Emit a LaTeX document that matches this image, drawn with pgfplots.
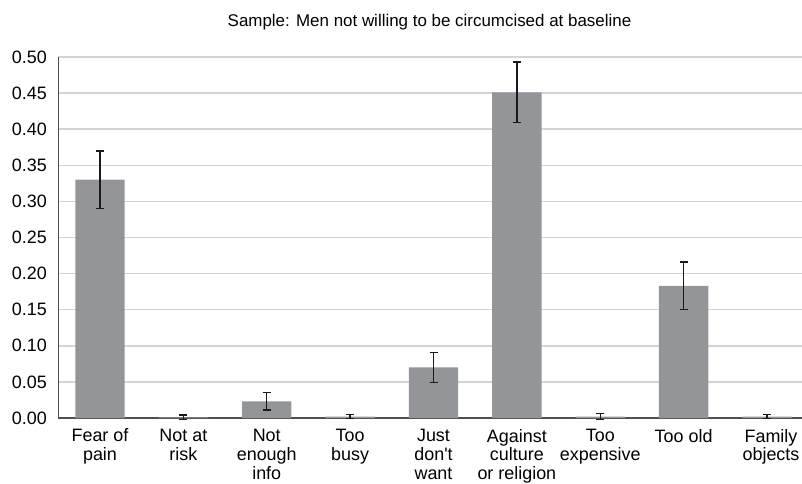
\documentclass[border=0pt]{standalone}
\usepackage{pgfplots}
\pgfplotsset{compat=1.18}
\usepackage{fontspec}
\setmainfont{Liberation Sans}
\definecolor{barfill}{HTML}{939598}
\definecolor{gridgray}{HTML}{D4D4D4}
\definecolor{axisgray}{HTML}{505050}
\begin{document}
\begin{tikzpicture}
\begin{axis}[
  scale only axis,
  width=750.4bp, height=361bp,
  xmin=-0.5, xmax=8.5,
  ymin=0, ymax=0.5,
  ytick={0,0.05,...,0.5},
  yticklabel style={/pgf/number format/fixed,/pgf/number format/precision=2,/pgf/number format/fixed zerofill,/pgf/number format/assume math mode=true,font=\fontsize{18}{19}\selectfont},
  xtick={0,...,8},
  xticklabels={{Fear of\\pain},{Not at\\risk},{Not\\enough\\info},{Too\\busy},{Just\\don\textquotesingle t\\want},{Against\\culture\\or religion},{Too\\expensive},{Too old},{\hspace*{8bp}Family\\\hspace*{8bp}objects}},
  xticklabel style={align=center,font=\fontsize{18}{19}\selectfont,anchor=north,yshift=-7.5bp},
  major tick length=0pt,
  ymajorgrids,
  grid style={gridgray,line width=1.4bp},
  axis x line*=bottom,
  axis y line*=left,
  axis line style={axisgray,line width=1.2bp},
  yticklabel shift=8bp,
  clip=false,
]
\addplot[ybar,bar width=49.3bp,fill=barfill,draw=none,
  error bars/.cd,y dir=both,y explicit,
  error bar style={black!90,line width=1.3bp},
  error mark options={rotate=90,mark size=4bp,black!90,line width=1.3bp}]
  coordinates {
  (0,0.330) +- (0,0.040)
  (1,0.001) +- (0,0.003)
  (2,0.023) +- (0,0.012)
  (3,0.002) +- (0,0.003)
  (4,0.070) +- (0,0.021)
  (5,0.451) +- (0,0.042)
  (6,0.002) +- (0,0.004)
  (7,0.183) +- (0,0.033)
  (8,0.002) +- (0,0.003)
  };
\node[font=\fontsize{17}{18}\selectfont,anchor=base] at (rel axis cs:0.5,1) [yshift=30bp,xshift=-4bp] {Sample: Men not willing to be circumcised at baseline};
\end{axis}
\pgfresetboundingbox
\useasboundingbox (-58.3bp,-66bp) rectangle (743.7bp,418bp);
\end{tikzpicture}
\end{document}
